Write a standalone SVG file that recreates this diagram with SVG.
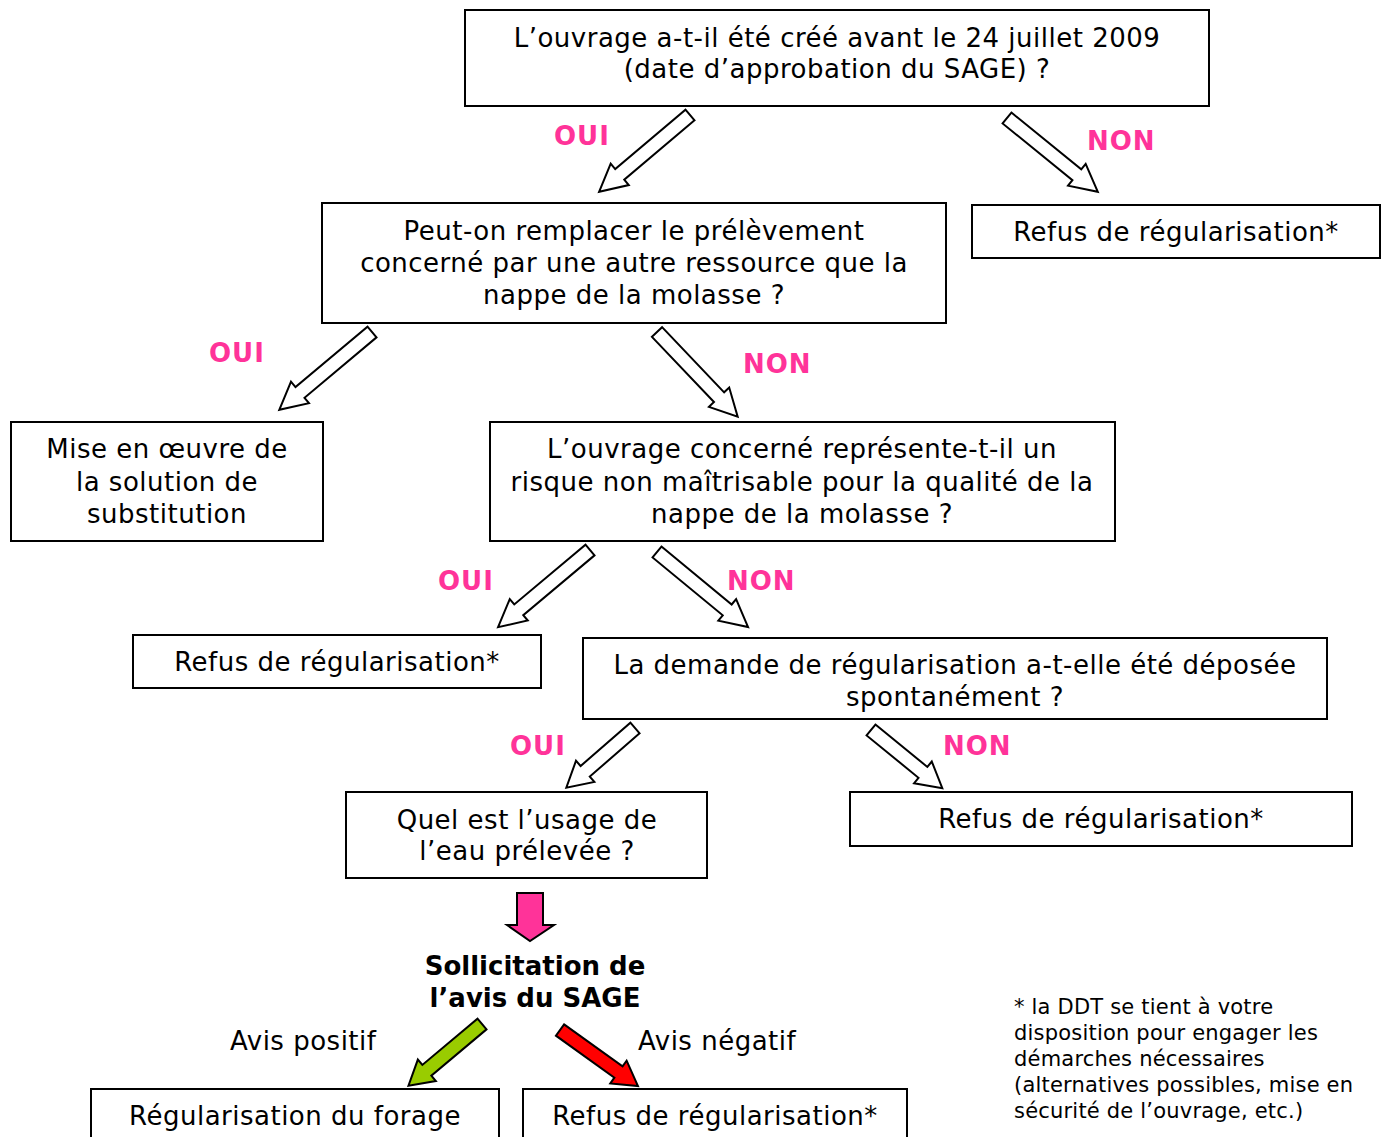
<svg xmlns="http://www.w3.org/2000/svg" width="1385" height="1137" viewBox="0 0 1385 1137">
<style>
.box{fill:#fff;stroke:#000;stroke-width:2}
.t{font-family:"DejaVu Sans",Verdana,sans-serif;font-size:26px;letter-spacing:0.5px;fill:#000;text-anchor:middle}
.lab{font-family:"DejaVu Sans",Verdana,sans-serif;font-size:26px;letter-spacing:1px;font-weight:bold;fill:#FF3399}
.arr{fill:#fff;stroke:#000;stroke-width:2;stroke-linejoin:miter}
.b{font-weight:bold;letter-spacing:0}
.fn{font-family:"DejaVu Sans",Verdana,sans-serif;font-size:21px;letter-spacing:0.2px;fill:#000}
.av{font-family:"DejaVu Sans",Verdana,sans-serif;font-size:26px;letter-spacing:0.5px;fill:#000}
</style>
<rect width="1385" height="1137" fill="#fff"/>
<g id="connectors">
<path class="arr" transform="translate(690,115) rotate(139.8)" d="M0,-7 L92,-7 L92,-14 L119,0 L92,14 L92,7 L0,7 Z"/>
<path class="arr" transform="translate(1007,118) rotate(39.1)" d="M0,-7 L90,-7 L90,-14 L117,0 L90,14 L90,7 L0,7 Z"/>
<path class="arr" transform="translate(372,332) rotate(140)" d="M0,-7 L94,-7 L94,-14 L121,0 L94,14 L94,7 L0,7 Z"/>
<path class="arr" transform="translate(657,332) rotate(46.4)" d="M0,-7 L90,-7 L90,-14 L117,0 L90,14 L90,7 L0,7 Z"/>
<path class="arr" transform="translate(590,550) rotate(140)" d="M0,-7 L93,-7 L93,-14 L120,0 L93,14 L93,7 L0,7 Z"/>
<path class="arr" transform="translate(657,552) rotate(39.5)" d="M0,-7 L91,-7 L91,-14 L118,0 L91,14 L91,7 L0,7 Z"/>
<path class="arr" transform="translate(635,728) rotate(139)" d="M0,-7 L66,-7 L66,-14 L91,0 L66,14 L66,7 L0,7 Z"/>
<path class="arr" transform="translate(871,730) rotate(39.2)" d="M0,-7 L67,-7 L67,-14 L92,0 L67,14 L67,7 L0,7 Z"/>
<path d="M517,893 L543,893 L543,925 L554,925 L530,941 L507,925 L517,925 Z" fill="#FF3399" stroke="#000" stroke-width="2"/>
<path transform="translate(482,1024) rotate(140)" d="M0,-7 L72,-7 L72,-14 L96,0 L72,14 L72,7 L0,7 Z" fill="#99CC00" stroke="#000" stroke-width="2"/>
<path transform="translate(560,1030) rotate(35.7)" d="M0,-7 L72,-7 L72,-14 L96,0 L72,14 L72,7 L0,7 Z" fill="#FF0000" stroke="#000" stroke-width="2"/>
</g>
<g id="labels">
<text class="lab" x="554" y="145">OUI</text>
<text class="lab" x="1087" y="150">NON</text>
<text class="lab" x="209" y="362">OUI</text>
<text class="lab" x="743" y="373">NON</text>
<text class="lab" x="438" y="590">OUI</text>
<text class="lab" x="727" y="590">NON</text>
<text class="lab" x="510" y="755">OUI</text>
<text class="lab" x="943" y="755">NON</text>
<text class="av" x="230" y="1050">Avis positif</text>
<text class="av" x="638" y="1050">Avis négatif</text>
</g>
<g id="n1"><rect class="box" x="465" y="10" width="744" height="96"/>
<text class="t" x="837" y="47">L’ouvrage a-t-il été créé avant le 24 juillet 2009</text>
<text class="t" x="837" y="78">(date d’approbation du SAGE) ?</text></g>
<g id="n2"><rect class="box" x="322" y="203" width="624" height="120"/>
<text class="t" x="634" y="240">Peut-on remplacer le prélèvement</text>
<text class="t" x="634" y="272">concerné par une autre ressource que la</text>
<text class="t" x="634" y="304">nappe de la molasse ?</text></g>
<g id="n3"><rect class="box" x="972" y="205" width="408" height="53"/>
<text class="t" x="1176" y="241">Refus de régularisation*</text></g>
<g id="n4"><rect class="box" x="11" y="422" width="312" height="119"/>
<text class="t" x="167" y="458">Mise en œuvre de</text>
<text class="t" x="167" y="491">la solution de</text>
<text class="t" x="167" y="523">substitution</text></g>
<g id="n5"><rect class="box" x="490" y="422" width="625" height="119"/>
<text class="t" x="802" y="458">L’ouvrage concerné représente-t-il un</text>
<text class="t" x="802" y="491">risque non maîtrisable pour la qualité de la</text>
<text class="t" x="802" y="523">nappe de la molasse ?</text></g>
<g id="n6"><rect class="box" x="133" y="635" width="408" height="53"/>
<text class="t" x="337" y="671">Refus de régularisation*</text></g>
<g id="n7"><rect class="box" x="583" y="638" width="744" height="81"/>
<text class="t" x="955" y="674">La demande de régularisation a-t-elle été déposée</text>
<text class="t" x="955" y="706">spontanément ?</text></g>
<g id="n8"><rect class="box" x="346" y="792" width="361" height="86"/>
<text class="t" x="527" y="829">Quel est l’usage de</text>
<text class="t" x="527" y="860">l’eau prélevée ?</text></g>
<g id="n9"><rect class="box" x="850" y="792" width="502" height="54"/>
<text class="t" x="1101" y="828">Refus de régularisation*</text></g>
<g id="n10">
<text class="t b" x="535" y="975">Sollicitation de</text>
<text class="t b" x="535" y="1007">l’avis du SAGE</text></g>
<g id="n11"><rect class="box" x="91" y="1089" width="408" height="60"/>
<text class="t" x="295" y="1125">Régularisation du forage</text></g>
<g id="n12"><rect class="box" x="523" y="1089" width="384" height="60"/>
<text class="t" x="715" y="1125">Refus de régularisation*</text></g>
<g id="note">
<text class="fn" x="1014" y="1014">* la DDT se tient à votre</text>
<text class="fn" x="1014" y="1040">disposition pour engager les</text>
<text class="fn" x="1014" y="1066">démarches nécessaires</text>
<text class="fn" x="1014" y="1092">(alternatives possibles, mise en</text>
<text class="fn" x="1014" y="1118">sécurité de l’ouvrage, etc.)</text>
</g>
</svg>
